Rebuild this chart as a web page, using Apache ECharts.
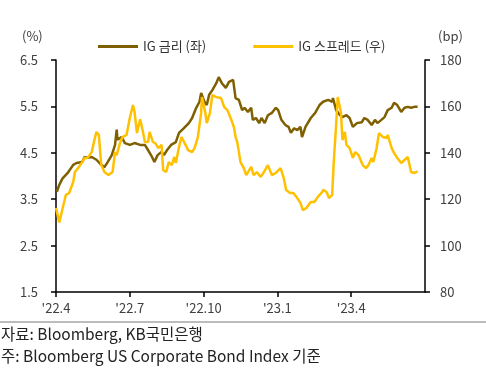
<!DOCTYPE html>
<html>
<head>
<meta charset="utf-8">
<script src="https://cdn.jsdelivr.net/npm/echarts@6/dist/echarts.min.js"></script>
<style>
html,body{margin:0;padding:0;background:#fff;}
#chart{width:486px;height:380px;}
</style>
</head>
<body>
<div id="chart"></div>
<script>
// ---- Data ----
const seriesNames = ['IG 금리 (좌)', 'IG 스프레드 (우)'];
const xTickLabels = ["'22.4", "'22.7", "'22.10", "'23.1", "'23.4"];
const leftTicks = [1.5, 2.5, 3.5, 4.5, 5.5, 6.5];
const rightTicks = [80, 100, 120, 140, 160, 180];

// IG 금리 (%) [date, value]
const igRate = [
  ['2022-04-02',3.66],['2022-04-05',3.81],['2022-04-09',3.95],['2022-04-15',4.06],['2022-04-22',4.24],['2022-04-26',4.28],
  ['2022-05-03',4.30],['2022-05-06',4.41],['2022-05-10',4.39],['2022-05-15',4.41],['2022-05-21',4.35],['2022-05-27',4.24],['2022-05-31',4.19],
  ['2022-06-04',4.30],['2022-06-09',4.45],['2022-06-13',4.67],['2022-06-15',5.00],['2022-06-16',4.78],['2022-06-21',4.84],['2022-06-25',4.71],
  ['2022-07-01',4.67],['2022-07-07',4.71],['2022-07-14',4.67],['2022-07-20',4.67],['2022-07-24',4.56],['2022-07-29',4.41],
  ['2022-08-01',4.30],['2022-08-05',4.45],['2022-08-10',4.52],['2022-08-13',4.45],['2022-08-17',4.56],['2022-08-22',4.67],['2022-08-28',4.73],
  ['2022-09-01',4.93],['2022-09-07',5.03],['2022-09-13',5.14],['2022-09-17',5.25],['2022-09-22',5.47],['2022-09-26',5.60],['2022-09-28',5.79],
  ['2022-10-02',5.60],['2022-10-05',5.53],['2022-10-08',5.75],['2022-10-12',5.85],['2022-10-17',6.00],['2022-10-20',6.13],['2022-10-24',6.00],['2022-10-29',5.90],
  ['2022-11-02',6.03],['2022-11-07',6.07],['2022-11-10',5.68],['2022-11-14',5.64],['2022-11-18',5.42],['2022-11-21',5.47],['2022-11-25',5.38],['2022-11-29',5.47],
  ['2022-12-01',5.21],['2022-12-05',5.25],['2022-12-09',5.14],['2022-12-12',5.25],['2022-12-16',5.14],['2022-12-20',5.31],['2022-12-25',5.36],['2022-12-30',5.47],
  ['2023-01-02',5.42],['2023-01-06',5.21],['2023-01-11',5.10],['2023-01-15',5.06],['2023-01-18',4.93],['2023-01-22',5.03],['2023-01-26',4.99],['2023-01-30',5.06],
  ['2023-02-01',4.84],['2023-02-05',5.06],['2023-02-11',5.25],['2023-02-16',5.36],['2023-02-21',5.53],['2023-02-25',5.60],
  ['2023-03-03',5.64],['2023-03-08',5.60],['2023-03-09',5.68],['2023-03-13',5.42],['2023-03-18',5.31],['2023-03-21',5.27],['2023-03-26',5.31],['2023-03-30',5.25],
  ['2023-04-03',5.06],['2023-04-08',5.14],['2023-04-14',5.16],['2023-04-17',5.25],['2023-04-21',5.21],['2023-04-26',5.10],['2023-04-30',5.21],
  ['2023-05-03',5.14],['2023-05-08',5.21],['2023-05-12',5.27],['2023-05-16',5.42],['2023-05-21',5.47],['2023-05-24',5.58],['2023-05-28',5.53],
  ['2023-06-02',5.38],['2023-06-06',5.47],['2023-06-10',5.49],['2023-06-14',5.47],['2023-06-18',5.49],['2023-06-22',5.49]
];

// IG 스프레드 (bp) [date, value]
const igSpread = [
  ['2022-04-01',116.2],['2022-04-05',110],['2022-04-09',116],['2022-04-13',121.8],['2022-04-17',122.7],['2022-04-22',127.4],['2022-04-24',131.7],['2022-04-28',133.4],
  ['2022-05-03',136],['2022-05-06',137.8],['2022-05-10',137.8],['2022-05-15',140.3],['2022-05-19',146.4],['2022-05-21',149],['2022-05-24',147.7],['2022-05-27',134.7],['2022-05-31',131.7],
  ['2022-06-05',130.4],['2022-06-10',131.7],['2022-06-13',140.3],['2022-06-15',139],['2022-06-19',144.2],['2022-06-22',146.8],['2022-06-27',147.7],
  ['2022-07-01',155],['2022-07-05',160.6],['2022-07-07',157.6],['2022-07-10',148.5],['2022-07-14',154.5],['2022-07-17',150],['2022-07-20',144.7],['2022-07-24',144.7],['2022-07-26',149],['2022-07-30',144.7],
  ['2022-08-02',144.2],['2022-08-06',142],['2022-08-10',143.4],['2022-08-12',132.6],['2022-08-16',131.7],['2022-08-19',136],['2022-08-23',134.7],['2022-08-26',138.2],['2022-08-28',135.6],
  ['2022-09-01',142.5],['2022-09-04',146.8],['2022-09-09',143.4],['2022-09-12',141.2],['2022-09-17',140.3],['2022-09-20',142],['2022-09-24',146.8],['2022-09-28',157.2],['2022-09-29',164],
  ['2022-10-03',157.6],['2022-10-05',152.8],['2022-10-09',157.2],['2022-10-12',164.9],['2022-10-17',164],['2022-10-23',163.6],['2022-10-27',159.7],['2022-10-31',158.4],
  ['2022-11-05',154],['2022-11-08',151],['2022-11-10',146.8],['2022-11-12',144.7],['2022-11-16',136],['2022-11-20',133.4],['2022-11-23',130.4],['2022-11-29',133.9],
  ['2022-12-02',130.4],['2022-12-06',131.7],['2022-12-11',129.6],['2022-12-15',131.7],['2022-12-20',134.7],['2022-12-25',130.4],['2022-12-30',131.3],
  ['2023-01-05',133.4],['2023-01-09',129.1],['2023-01-12',124],['2023-01-17',122.7],['2023-01-21',122.7],['2023-01-25',121],['2023-01-30',118.4],
  ['2023-02-02',115.3],['2023-02-06',116.2],['2023-02-11',118.8],['2023-02-15',118.8],['2023-02-19',121],['2023-02-24',123.1],['2023-02-25',124],
  ['2023-03-01',123.1],['2023-03-04',120.5],['2023-03-08',121.8],['2023-03-10',136],['2023-03-13',152],['2023-03-15',164],['2023-03-19',157.6],['2023-03-21',145.5],['2023-03-24',149],['2023-03-26',143.4],['2023-03-30',142],
  ['2023-04-03',137.8],['2023-04-06',140.3],['2023-04-10',139],['2023-04-15',134.7],['2023-04-19',133.4],['2023-04-22',134.7],['2023-04-26',137.8],['2023-04-28',136],
  ['2023-05-02',142],['2023-05-05',148.5],['2023-05-10',146.8],['2023-05-15',146.4],['2023-05-16',147.7],['2023-05-21',142],['2023-05-24',139.9],['2023-05-28',137.8],
  ['2023-06-02',135.6],['2023-06-06',136.9],['2023-06-10',138.2],['2023-06-14',131.7],['2023-06-18',131.3],['2023-06-22',132]
];

const sourceNote = '자료: Bloomberg, KB국민은행';
const footNote = '주: Bloomberg US Corporate Bond Index 기준';

// ---- Build ----
// months elapsed since 2022-04-01 (fractional)
function toMonths(s) {
  const [y, m, d] = s.split('-').map(Number);
  const dim = new Date(y, m, 0).getDate();
  return (y - 2022) * 12 + (m - 4) + (d - 1) / dim;
}
const toXY = arr => arr.map(p => [toMonths(p[0]), p[1]]);

const FONT = '"Noto Sans CJK KR", "Noto Sans", sans-serif';
const BROWN = '#7F6000';
const GOLD = '#FFC000';

const chart = echarts.init(document.getElementById('chart'), null, {renderer: 'canvas'});
chart.setOption({
  animation: false,
  backgroundColor: '#fff',
  textStyle: {fontFamily: FONT},
  grid: {left: 56, right: 61, top: 60, bottom: 88, containLabel: false},
  legend: {
    top: 40, left: 98, padding: 0,
    itemWidth: 40, itemHeight: 3, itemGap: 47,
    icon: 'rect',
    textStyle: {fontSize: 13, color: '#333', fontFamily: FONT, padding: [0, 0, 0, 0]},
    data: seriesNames
  },
  xAxis: {
    type: 'value', min: 0, max: 15, interval: 3,
    axisLine: {show: true, onZero: false, lineStyle: {color: '#000', width: 1.5}},
    axisTick: {show: true, inside: false, length: 5, lineStyle: {color: '#000', width: 1.5}},
    axisLabel: {
      show: true, margin: 10, fontSize: 13, color: '#404040', fontFamily: FONT,
      showMaxLabel: false,
      formatter: v => xTickLabels[Math.round(v / 3)] || ''
    },
    splitLine: {show: false}
  },
  yAxis: [
    {
      type: 'value', position: 'left', min: 1.5, max: 6.5,
      axisLine: {show: true, lineStyle: {color: '#000', width: 1.5}},
      axisTick: {show: true, inside: false, length: 5, customValues: leftTicks, lineStyle: {color: '#000', width: 1.5}},
      axisLabel: {margin: 18, fontSize: 13, color: '#404040', fontFamily: FONT, customValues: leftTicks,
        formatter: v => v.toFixed(1)},
      splitLine: {show: false}
    },
    {
      type: 'value', position: 'right', min: 80, max: 180, interval: 20,
      axisLine: {show: true, lineStyle: {color: '#000', width: 1.5}},
      axisTick: {show: true, inside: false, length: 5, customValues: rightTicks, lineStyle: {color: '#000', width: 1.5}},
      axisLabel: {margin: 15, fontSize: 13, color: '#404040', fontFamily: FONT, customValues: rightTicks},
      splitLine: {show: false}
    }
  ],
  series: [
    {
      name: seriesNames[0], type: 'line', yAxisIndex: 0,
      data: toXY(igRate), symbol: 'none', showSymbol: false,
      lineStyle: {color: BROWN, width: 2.5}, itemStyle: {color: BROWN}
    },
    {
      name: seriesNames[1], type: 'line', yAxisIndex: 1,
      data: toXY(igSpread), symbol: 'none', showSymbol: false,
      lineStyle: {color: GOLD, width: 2.5}, itemStyle: {color: GOLD}
    }
  ],
  graphic: [
    {type: 'text', left: 22, top: 30, style: {text: '(%)', fontSize: 13, fill: '#404040', fontFamily: FONT}},
    {type: 'text', left: 438, top: 30, style: {text: '(bp)', fontSize: 13, fill: '#404040', fontFamily: FONT}},
    {type: 'line', shape: {x1: 0, y1: 322, x2: 486, y2: 322}, style: {stroke: '#a6a6a6', lineWidth: 1.5}},
    {type: 'text', left: 1, top: 326, style: {text: sourceNote, fontSize: 15.5, fill: '#222', fontFamily: FONT}},
    {type: 'text', left: 1, top: 348, style: {text: footNote, fontSize: 15.5, fill: '#222', fontFamily: FONT}}
  ]
});
</script>
</body>
</html>
